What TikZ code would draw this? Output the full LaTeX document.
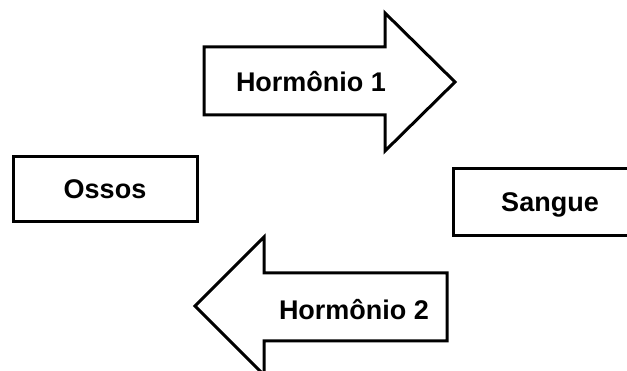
\documentclass[tikz,border=0pt]{standalone}
\usepackage{fontspec}
\setmainfont{Liberation Sans}

\begin{document}
\begin{tikzpicture}[x=1pt,y=-1pt,
    caixa/.style={draw, line width=3pt, inner sep=0pt, text height=19pt, text depth=0pt,
                  font=\fontsize{27}{30}\selectfont\bfseries},
    rotulo/.style={anchor=base, font=\fontsize{27}{30}\selectfont\bfseries},
    seta/.style={draw, line width=3pt, line join=miter}]
%
         \clip (0,0) rectangle (627,371);

         \node [caixa, minimum width=184pt, minimum height=65pt] (O) at (105,189.5) {Ossos};
         \node [caixa, minimum width=194pt, minimum height=67pt] (S) at (550,202.5) {Sangue};

         \draw [seta] (204,47) -- (385,47) -- (385,13) -- (455,82) -- (385,151)
                      -- (385,115) -- (204,115) -- cycle;
         \draw [seta] (447,273) -- (264,273) -- (264,237) -- (195,306) -- (264,375)
                      -- (264,341) -- (447,341) -- cycle;

         \node [rotulo] (H1) at (311,92)  {Hormônio 1};
         \node [rotulo] (H2) at (354,320) {Hormônio 2};

\end{tikzpicture}
\end{document}
